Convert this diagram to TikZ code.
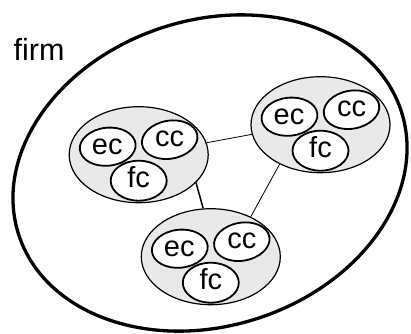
\documentclass[tikz,border=0pt]{standalone}
\usepackage{fontspec}
\setmainfont{Liberation Sans}
\usetikzlibrary{shapes.geometric}
\tikzset{
  grp/.style={ellipse, draw, line width=1.2pt, fill=gray!17, minimum width=139pt, minimum height=96pt, inner sep=0pt},
  cell/.style={draw, line width=1.8pt, fill=white},
  lbl/.style={inner sep=0pt, text height=15pt, text depth=0pt, font=\fontsize{29}{32}\selectfont},
  link/.style={line width=0.8pt},
  boldlink/.style={line width=1.5pt},
}
\newcommand\mygroup[2]{%
  \node[grp] (#1) at (#2) {};
  \begin{scope}[shift={(#1.center)}]
    \draw[cell, rotate around={6:(-31,8)}] (-31,8) ellipse [x radius=28pt, y radius=19pt];
    \draw[cell, rotate around={10:(31,15)}] (31,15) ellipse [x radius=28pt, y radius=19pt];
    \draw[cell] (0,-26) ellipse [x radius=28pt, y radius=20pt];
    \node[lbl] (#1ec) at (-31.5,7.5) {ec};
    \node[lbl] (#1cc) at (31,16) {cc};
    \node[lbl] (#1fc) at (0,-25) {fc};
  \end{scope}}
\begin{document}
\begin{tikzpicture}[x=1pt,y=1pt]
\useasboundingbox (0,0) rectangle (411,333);
\draw[line width=3.3pt, rotate around={17.8:(210,160)}] (210,160) ellipse [x radius=201pt, y radius=153pt];
\node[font=\fontsize{30.5}{33}\selectfont, inner sep=0pt, anchor=base west] (firm) at (13.5,272.3) {firm};
\mygroup{ga}{138.7,178.3}
\mygroup{gb}{320.5,208.3}
\mygroup{gc}{210.8,76.3}
\draw[link] (ga.10) -- (gb.188);
\draw[boldlink] (ga.-26) -- (gc.99);
\draw[link] (gb.224) -- (gc.45);
\end{tikzpicture}
\end{document}
